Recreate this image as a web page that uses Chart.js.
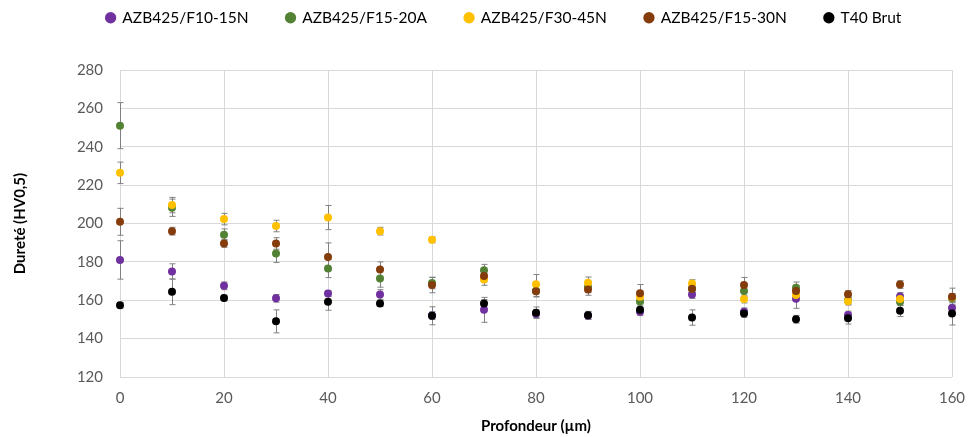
<!DOCTYPE html>
<html><head><meta charset="utf-8">
<script src="https://cdn.jsdelivr.net/npm/chart.js@4.4.0/dist/chart.umd.min.js"></script>
<style>html,body{margin:0;padding:0;background:#fff;}canvas{display:block}</style>
</head><body>
<canvas id="c" width="968" height="437"></canvas>
<script>
// Profondeur (µm)
const depth = [0,10,20,30,40,50,60,70,80,90,100,110,120,130,140,150,160];
const seriesNames = ['AZB425/F10-15N','AZB425/F15-20A','AZB425/F30-45N','AZB425/F15-30N','T40 Brut'];
// Dureté (HV0,5)
const f10_15N = [181,175,167.5,161,163.5,163,152,155,153,152,154,163,154,160.8,152.3,162,156];
const f15_20A = [251,208.2,194.2,184.3,176.5,171.3,169,175.7,165,167,159.3,166,164.8,166.5,160,159.2,161];
const f30_45N = [226.4,209.6,202.3,198.7,203.1,196,191.5,170.8,168.4,169.1,161.8,168.7,160.6,162.8,159.5,160.6,161.5];
const f15_30N = [200.9,196,189.6,189.6,182.6,176,167.9,172.6,164.7,165.6,163.7,166,167.9,164.8,163.1,168.2,161.8];
const t40Brut = [157.4,164.4,161.2,149,159.2,158.3,151.9,158.3,153.5,152.2,155.1,151,153.1,150.1,150.6,154.5,153.1];
// Error bars (±)
const f10_15N_err = [10,4,2,2,1.5,2.5,2,6.5,2,2,2,2,2,5,2,2,2];
const f15_20A_err = [12,4.5,3,4.6,4.7,4.5,3,3,3,3,3,2,3,3,2,2,2];
const f30_45N_err = [5.6,4,3,3,6.3,2,1.5,3,5,3,3,2,2,2,2,2,2];
const f15_30N_err = [7,2,2,3,7.3,4,4,3,3,3,4.5,2,4,3,2,2,4.5];
const t40Brut_err = [1.5,6.7,1.5,6,4.4,1.5,4.7,2,3,2,2,4,2,2,3,3,6];
const colors = ['#7030A0','#548235','#FFC000','#843C0C','#000000'];

const values = [f10_15N,f15_20A,f30_45N,f15_30N,t40Brut];
const errors = [f10_15N_err,f15_20A_err,f30_45N_err,f15_30N_err,t40Brut_err];

const datasets = seriesNames.map((name,i)=>({
  label: name,
  data: depth.map((d,j)=>({x:d,y:values[i][j]})),
  errs: errors[i],
  order: seriesNames.length - 1 - i,
  backgroundColor: colors[i],
  borderColor: colors[i],
  pointRadius: 4,
  pointHoverRadius: 4,
  borderWidth: 0,
  showLine: false,
  clip: false
}));

const errorBarPlugin = {
  id: 'errorBars',
  beforeDatasetsDraw(chart){
    const ctx = chart.ctx, ys = chart.scales.y, xs = chart.scales.x;
    ctx.save();
    ctx.strokeStyle = '#808080';
    ctx.lineWidth = 1;
    chart.data.datasets.forEach(ds=>{
      ds.data.forEach((p,j)=>{
        const e = ds.errs[j];
        const px = Math.round(xs.getPixelForValue(p.x))+0.5;
        const yt = ys.getPixelForValue(p.y+e), yb = ys.getPixelForValue(p.y-e);
        ctx.beginPath();
        ctx.moveTo(px,yt); ctx.lineTo(px,yb);
        ctx.moveTo(px-3,yt); ctx.lineTo(px+3,yt);
        ctx.moveTo(px-3,yb); ctx.lineTo(px+3,yb);
        ctx.stroke();
      });
    });
    ctx.restore();
  }
};

const LEG_PAD = 38;
const legendBoxPlugin = {
  id: 'legendBox',
  afterInit(chart){
    const lg = chart.legend;
    const orig = lg.fit;
    lg.fit = function(){ orig.call(this); this.height = 70; };
  },
  afterLayout(chart){
    const lg = chart.legend;
    const dy = LEG_PAD - 10;
    lg.top = -dy; lg.bottom = 70 - dy;
    lg.left += 28; lg.right += 28;
  }
};

new Chart(document.getElementById('c'), {
  type: 'scatter',
  data: { datasets },
  options: {
    responsive: false,
    animation: false,
    layout: { padding: { left: 0, right: 16, top: 0, bottom: 0 } },
    plugins: {
      legend: {
        position: 'top',
        labels: {
          usePointStyle: true,
          pointStyle: 'circle',
          boxWidth: 8, boxHeight: 8,
          padding: LEG_PAD,
          color: '#000000',
          font: { family: 'Lato', size: 15.5 },
          sort: (a,b) => a.datasetIndex - b.datasetIndex
        }
      },
      tooltip: { enabled: false }
    },
    scales: {
      x: {
        type: 'linear', min: 0, max: 160,
        ticks: { stepSize: 20, color: '#595959', padding: 12, font: { family: 'Lato', size: 15 } },
        grid: { color: '#d9d9d9', drawTicks: false },
        border: { display: false },
        title: { display: true, text: 'Profondeur (µm)', color: '#000000', font: { family: 'Lato', size: 15, weight: 'bold' }, padding: { top: 0, bottom: 2 } },
        afterFit(s){ s.height = 60; s.paddingRight = 0; s.paddingLeft = 0; }
      },
      y: {
        type: 'linear', min: 120, max: 280,
        ticks: { stepSize: 20, color: '#595959', padding: 17, font: { family: 'Lato', size: 15 } },
        grid: { color: '#d9d9d9', drawTicks: false },
        border: { display: false },
        title: { display: true, text: 'Dureté (HV0,5)', color: '#000000', font: { family: 'Lato', size: 15, weight: 'bold' }, padding: { top: 11, bottom: 0 } },
        afterFit(s){ s.width = 120; s.paddingTop = 0; s.paddingBottom = 0; }
      }
    }
  },
  plugins: [errorBarPlugin, legendBoxPlugin]
});
</script>
</body></html>
